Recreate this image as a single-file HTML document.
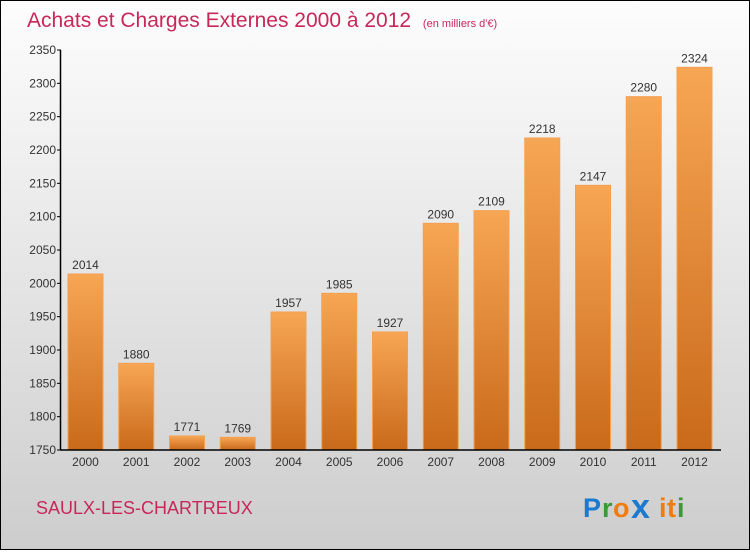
<!DOCTYPE html>
<html><head><meta charset="utf-8"><style>
body{margin:0}
svg text{font-family:"Liberation Sans","DejaVu Sans",sans-serif}
</style></head><body>
<svg width="750" height="550" viewBox="0 0 750 550">
<defs>
<linearGradient id="bg" x1="0" y1="0" x2="0" y2="1"><stop offset="0" stop-color="#fdfdfd"/><stop offset="1" stop-color="#cdcdcd"/></linearGradient>
<linearGradient id="bar" x1="0" y1="0" x2="0" y2="1"><stop offset="0" stop-color="#f7a654"/><stop offset="1" stop-color="#c96a1a"/></linearGradient>
</defs>
<rect x="0.5" y="0.5" width="749" height="549" fill="url(#bg)" stroke="#000"/>
<text x="27" y="27" font-size="21" fill="#c8275a">Achats et Charges Externes 2000 à 2012 <tspan font-size="11" dx="6">(en milliers d'€)</tspan></text>
<g id="bars"></g>
<g id="axes"></g>
<text x="36" y="514" font-size="18" fill="#c8275a">SAULX-LES-CHARTREUX</text>
<g font-size="27" font-weight="bold">
<text x="583" y="517" fill="#1a7ad0">P</text><text x="602" y="517" fill="#3a9a3a">r</text><text x="613" y="517" fill="#f07c10">o</text><text x="631" y="518" fill="#1a7ad0" font-size="34">x</text><text x="659" y="517" fill="#f07c10">i</text><text x="667" y="517" fill="#f07c10">t</text><text x="677" y="517" fill="#3a9a3a">i</text>
</g>
</svg>
<script>
const years=["2000","2001","2002","2003","2004","2005","2006","2007","2008","2009","2010","2011","2012"];
const values=[2014,1880,1771,1769,1957,1985,1927,2090,2109,2218,2147,2280,2324];
const yTicks=[1750,1800,1850,1900,1950,2000,2050,2100,2150,2200,2250,2300,2350];
const NS="http://www.w3.org/2000/svg";
const y=v=>450-(v-1750)*400/600;
const x=i=>68+i*50.75;
function mk(t,a,p){const e=document.createElementNS(NS,t);for(const k in a)e.setAttribute(k,a[k]);p.appendChild(e);return e;}
const bars=document.getElementById('bars'),axes=document.getElementById('axes');
values.forEach((v,i)=>{
 const r=mk('rect',{x:x(i),y:y(v),width:35,height:450-y(v),fill:'url(#bar)',stroke:'#f5a050','stroke-width':1},bars);
 
 
 const t=mk('text',{x:x(i)+17.5,y:y(v)-5,'font-size':12,'text-anchor':'middle',fill:'#333'},bars);
 t.textContent=v;
 
 
 const xl=mk('text',{x:x(i)+17.5,y:466,'font-size':12,'text-anchor':'middle',fill:'#333'},axes);
 xl.textContent=years[i];
 
 
});
yTicks.forEach(v=>{
 mk('line',{x1:57,x2:61,y1:y(v),y2:y(v),stroke:'#000'},axes);
 const t=mk('text',{x:56,y:y(v)+4,'font-size':12,'text-anchor':'end',fill:'#333'},axes);
 t.textContent=v;
 
 
});
const ya=mk('line',{x1:60.5,x2:60.5,y1:50,y2:450,stroke:'#000','stroke-width':1.5},axes);


const xa=mk('line',{x1:60,x2:721,y1:450,y2:450,stroke:'#000','stroke-width':1.5},axes);


</script>
</body></html>
